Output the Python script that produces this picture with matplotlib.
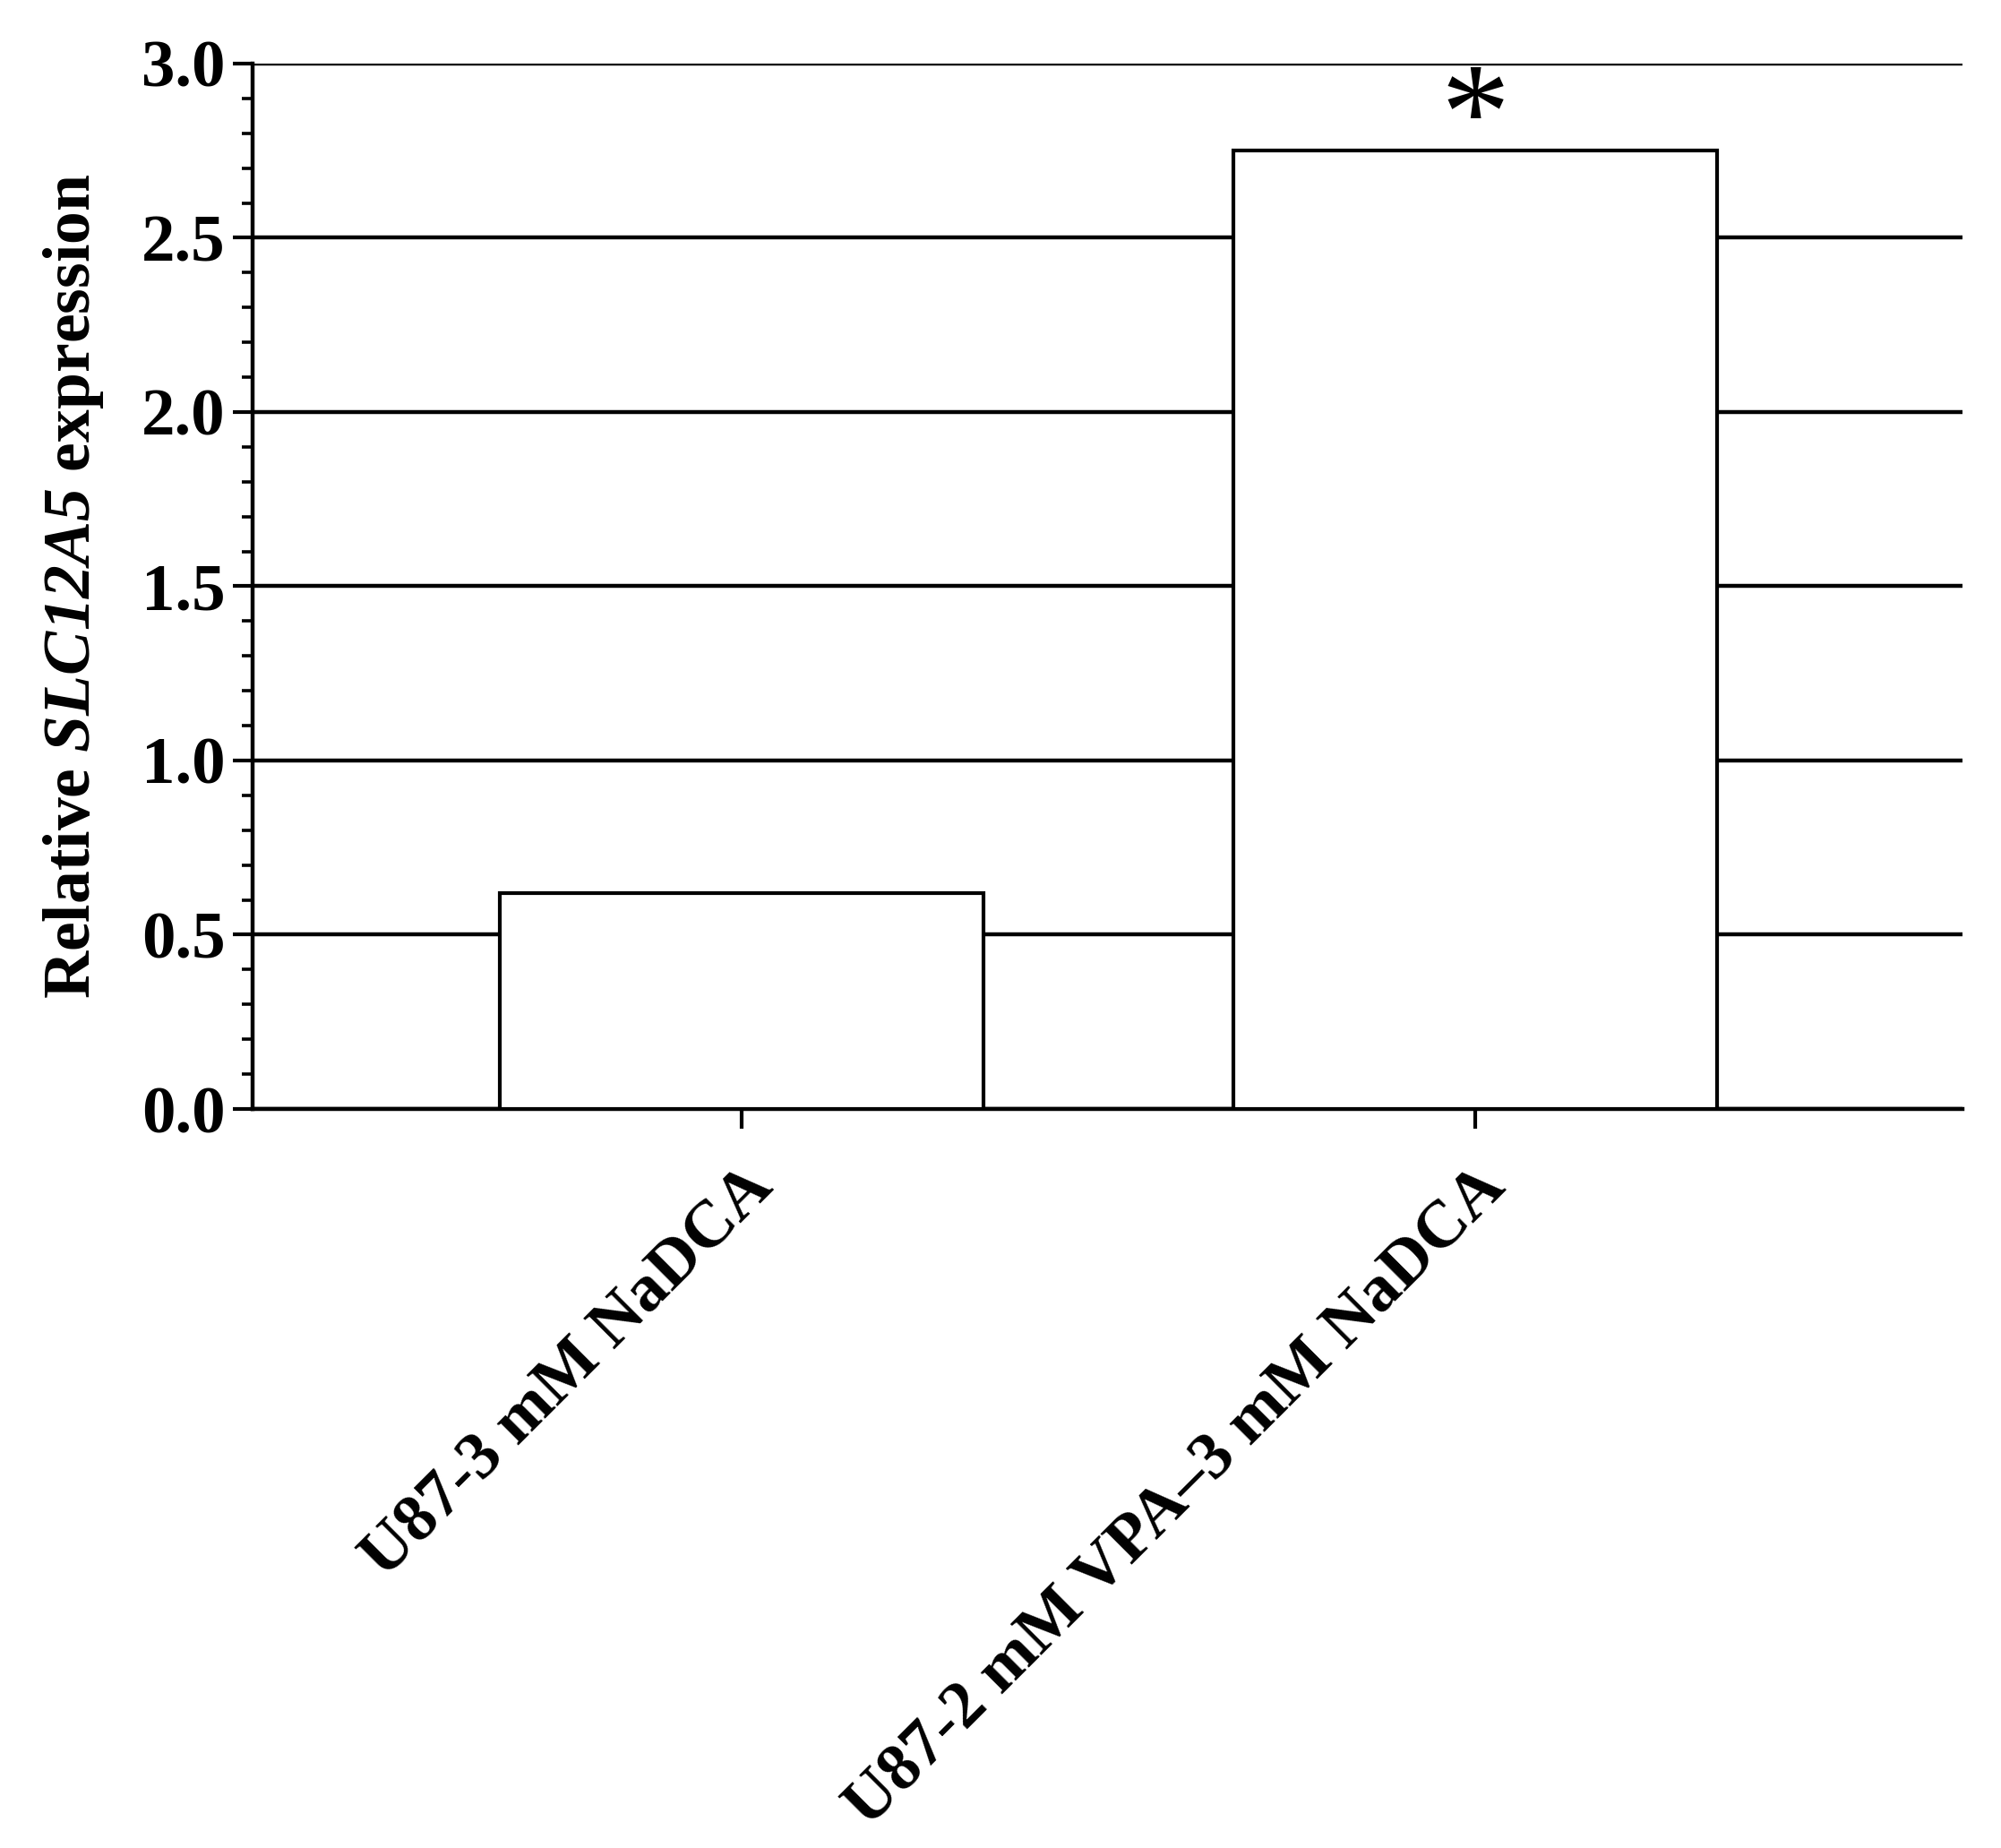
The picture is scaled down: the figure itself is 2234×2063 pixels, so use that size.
import matplotlib
matplotlib.use("Agg")
import matplotlib.pyplot as plt
from matplotlib.ticker import MultipleLocator

categories = ["U87-3 mM NaDCA", "U87-2 mM VPA\u20133 mM NaDCA"]
values = [0.62, 2.75]
significance = ["", "*"]
yticks = [0.0, 0.5, 1.0, 1.5, 2.0, 2.5, 3.0]

plt.rcParams['font.family'] = ['Liberation Serif', 'DejaVu Serif']
plt.rcParams['font.weight'] = 'bold'
plt.rcParams['axes.labelweight'] = 'bold'
plt.rcParams['mathtext.fontset'] = 'custom'
plt.rcParams['mathtext.rm'] = 'Liberation Serif:italic:bold'
plt.rcParams['mathtext.it'] = 'Liberation Serif:italic:bold'
plt.rcParams['mathtext.bf'] = 'Liberation Serif:italic:bold'

fig = plt.figure(figsize=(22.34, 20.63), dpi=100)
ax = fig.add_axes([0.1262, 0.3999, 0.9808 - 0.1262, 0.9656 - 0.3999])

x = list(range(len(categories)))
ax.set_axisbelow(True)
ax.yaxis.grid(True, which='major', color='black', linewidth=3.2)
ax.bar(x, values, width=0.66, color='white', edgecolor='black', linewidth=3.0, zorder=3)

for xi, v, s in zip(x, values, significance):
    if s:
        ax.text(xi, v + 0.074, s, ha='center', va='center', fontsize=111,
                fontweight='normal', zorder=4)

ax.set_xlim(-0.6675, 1.665)
ax.set_ylim(0, 3.0)
ax.set_yticks(yticks)
ax.set_yticklabels([f"{t:.1f}" for t in yticks])
ax.yaxis.set_minor_locator(MultipleLocator(0.1))
ax.set_xticks(x)
ax.set_xticklabels(categories, rotation=45, ha='right', rotation_mode='anchor')

for side in ['top', 'right']:
    ax.spines[side].set_visible(False)
for side in ['left', 'bottom']:
    ax.spines[side].set_linewidth(3.2)

ax.tick_params(axis='y', which='major', length=16, width=3.0, labelsize=54, pad=6)
ax.tick_params(axis='y', which='minor', length=9, width=2.6)
ax.tick_params(axis='x', which='major', length=16, width=3.0, labelsize=54, pad=22)

ax.set_ylabel("Relative $SLC12A5$ expression", fontsize=53, fontweight='bold')
ax.yaxis.set_label_coords(-0.086, 0.5)

fig.savefig("out.png", dpi=100, facecolor='white')
